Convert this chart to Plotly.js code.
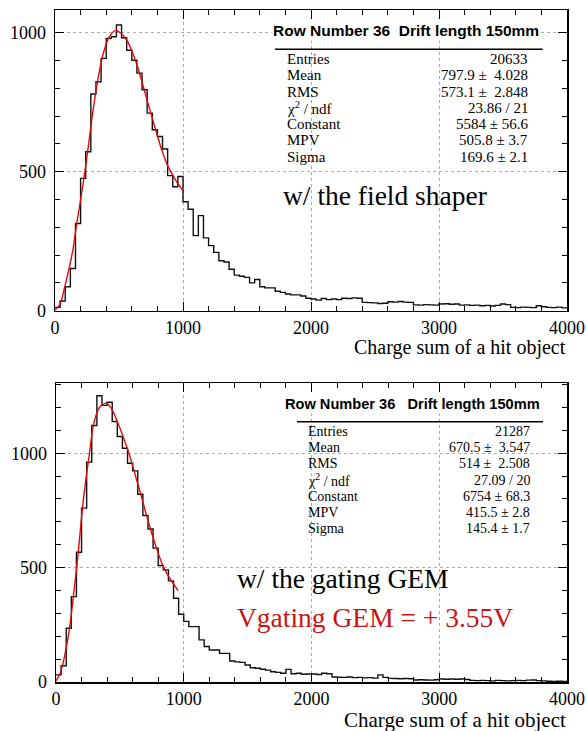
<!DOCTYPE html>
<html>
<head>
<meta charset="utf-8">
<script src="https://cdn.plot.ly/plotly-3.0.1.min.js"></script>
<style>html,body{margin:0;padding:0;background:#fff;}#chart{width:587px;height:731px;}</style>
</head>
<body>
<div id="chart"></div>
<script>
// ---------- data ----------
const binWidth = 40;
const countsTop = [12, 35, 86, 152, 314, 476, 572, 780, 824, 908,
  980, 986, 1028, 982, 937, 901, 855, 795, 711, 651,
  627, 582, 486, 446, 483, 392, 365, 270, 342, 262,
  234, 210, 180, 175, 149, 128, 124, 120, 100, 112,
  86, 82, 82, 70, 66, 60, 57, 57, 53, 45,
  42, 38, 44, 40, 42, 40, 45, 44, 46, 45,
  30, 29, 28, 26, 27, 32, 31, 33, 31, 30,
  21, 20, 22, 21, 20, 24, 25, 23, 24, 20,
  21, 19, 20, 18, 19, 17, 19, 24, 22, 12,
  11, 13, 12, 11, 18, 14, 12, 11, 13, 10];
const countsBottom = [31, 71, 235, 373, 567, 760, 961, 1121, 1251, 1209,
  1223, 1139, 1073, 1022, 956, 923, 821, 728, 669, 585,
  509, 490, 442, 366, 296, 265, 242, 242, 184, 155,
  140, 140, 125, 125, 92, 88, 86, 74, 62, 60,
  56, 52, 45, 42, 38, 55, 36, 38, 34, 35,
  35, 33, 38, 36, 22, 21, 20, 22, 19, 20,
  18, 19, 17, 31, 20, 16, 15, 14, 15, 14,
  9, 10, 9, 8, 10, 13, 12, 13, 12, 13,
  11, 7, 6, 7, 6, 5, 7, 6, 5, 6,
  7, 6, 8, 9, 6, 5, 3, 2, 3, 2];

const fitTopX = [0, 40, 76, 110, 140, 170, 200, 230, 260, 300, 340, 380, 420, 470, 510, 560, 600, 645, 685, 723, 762, 802, 840, 880, 940, 1000];
const fitTopY = [3, 24, 86, 152, 220, 314, 400, 490, 590, 730, 845, 930, 982, 1008, 1000, 974, 935, 878, 815, 752, 690, 626, 570, 522, 472, 432];
const fitBotX = [0, 30, 58, 80, 110, 135, 162, 185, 207, 235, 262, 293, 340, 393, 440, 490, 530, 571, 620, 665, 700, 738, 790, 843, 900, 955];
const fitBotY = [5, 35, 89, 150, 250, 370, 500, 630, 760, 890, 1000, 1124, 1200, 1219, 1190, 1124, 1065, 1000, 905, 818, 745, 672, 580, 500, 445, 400];

const statTitleTop = "Row Number 36  Drift length 150mm";
const statTitleBot = "Row Number 36   Drift length 150mm";
const statLabels = ["Entries", "Mean", "RMS", "χ<sup>2</sup> / ndf", "Constant", "MPV", "Sigma"];
const statTopValues = ["20633", "797.9 ±  4.028", "573.1 ±  2.848", "23.86 / 21", "5584 ± 56.6", "505.8 ± 3.7", "169.6 ± 2.1"];
const statBotValues = ["21287", "670.5 ±  3.547", "514 ±  2.508", "27.09 / 20", "6754 ± 68.3", "415.5 ± 2.8", "145.4 ± 1.7"];
const xTitle = "Charge sum of a hit object";
const labelTop = "w/ the field shaper";
const labelBot1 = "w/ the gating GEM";
const labelBot2 = "Vgating GEM = + 3.55V";

// ---------- helpers ----------
const W = 587, H = 731;
const fx = p => p / W;
const fy = p => 1 - p / H;
const serif = "Liberation Serif, Times New Roman, serif";
const sans = "Liberation Sans, Arial, sans-serif";
const sp = s => s.replace(/ {2,}/g, m => ' ' + '&nbsp;'.repeat(m.length - 1));

function stepXY(counts) {
  const x = counts.map((_, i) => i * binWidth);
  x.push(counts.length * binWidth);
  const y = counts.slice();
  y.push(counts[counts.length - 1]);
  return {x, y};
}
const hT = stepXY(countsTop), hB = stepXY(countsBottom);

const traces = [
  {x: hT.x, y: hT.y, xaxis: 'x', yaxis: 'y', type: 'scatter', mode: 'lines',
   line: {shape: 'hv', color: '#111', width: 1.4}, hoverinfo: 'skip'},
  {x: fitTopX, y: fitTopY, xaxis: 'x', yaxis: 'y', type: 'scatter', mode: 'lines',
   line: {shape: 'spline', smoothing: 0.8, color: 'rgb(225,10,10)', width: 1.4}, hoverinfo: 'skip'},
  {x: hB.x, y: hB.y, xaxis: 'x2', yaxis: 'y2', type: 'scatter', mode: 'lines',
   line: {shape: 'hv', color: '#111', width: 1.4}, hoverinfo: 'skip'},
  {x: fitBotX, y: fitBotY, xaxis: 'x2', yaxis: 'y2', type: 'scatter', mode: 'lines',
   line: {shape: 'spline', smoothing: 0.8, color: 'rgb(225,10,10)', width: 1.4}, hoverinfo: 'skip'}
];

function xax(domain, anchor) {
  return {domain, anchor, range: [0, 4000], tick0: 0, dtick: 1000,
    ticks: 'inside', ticklen: 9, tickwidth: 1, tickcolor: '#000',
    minor: {dtick: 200, ticks: 'inside', ticklen: 5, tickcolor: '#000', tickwidth: 1, showgrid: false},
    showline: true, linecolor: '#000', linewidth: 1.5, mirror: 'ticks',
    showgrid: true, gridcolor: '#aaa', griddash: 'dot', gridwidth: 1, zeroline: false,
    tickfont: {family: serif, size: 18, color: '#000'}, fixedrange: true};
}
function yax(domain, anchor, top) {
  return {domain, anchor, range: [0, top], tick0: 0, dtick: 500,
    ticks: 'inside', ticklen: 9, tickwidth: 1, tickcolor: '#000',
    minor: {dtick: 100, ticks: 'inside', ticklen: 5, tickcolor: '#000', tickwidth: 1, showgrid: false},
    showline: true, linecolor: '#000', linewidth: 1.5, mirror: 'ticks',
    showgrid: true, gridcolor: '#aaa', griddash: 'dot', gridwidth: 1, zeroline: false,
    ticklabelstandoff: 4,
    tickfont: {family: serif, size: 18, color: '#000'}, fixedrange: true};
}

const annotations = [];
const shapes = [];
function statBox(title, titleCx, titleCy, lineX0, lineX1, lineY, labX, valX, rowY0, rowDy, values, fs, tfs) {
  annotations.push({xref: 'paper', yref: 'paper', x: fx(titleCx), y: fy(titleCy), xanchor: 'center', yanchor: 'middle',
    text: '<b>' + sp(title) + '</b>', showarrow: false, bgcolor: '#fff',
    font: {family: sans, size: tfs, color: '#000'}});
  shapes.push({type: 'line', xref: 'paper', yref: 'paper', x0: fx(lineX0), x1: fx(lineX1), y0: fy(lineY), y1: fy(lineY),
    line: {color: '#000', width: 1.5}});
  statLabels.forEach((lab, i) => {
    const y = rowY0 + i * rowDy;
    annotations.push({xref: 'paper', yref: 'paper', x: fx(labX), y: fy(y), xanchor: 'left', yanchor: 'middle',
      text: lab, showarrow: false, font: {family: serif, size: fs, color: '#000'}});
    annotations.push({xref: 'paper', yref: 'paper', x: fx(valX), y: fy(y), xanchor: 'right', yanchor: 'middle',
      text: sp(values[i]), showarrow: false, font: {family: serif, size: fs, color: '#000'}});
  });
}
statBox(statTitleTop, 406, 31, 275, 542.7, 49.3, 285, 530, 59, 16.3, statTopValues, 15, 15.5);
statBox(statTitleBot, 412, 404, 297, 543, 421.7, 306, 532, 431.5, 16.2, statBotValues, 14, 14.6);

annotations.push({xref: 'paper', yref: 'paper', x: fx(281), y: fy(196), xanchor: 'left', yanchor: 'middle',
  text: labelTop, showarrow: false, font: {family: serif, size: 27.5, color: '#000'}});
annotations.push({xref: 'paper', yref: 'paper', x: fx(235), y: fy(578), xanchor: 'left', yanchor: 'middle',
  text: labelBot1, showarrow: false, font: {family: serif, size: 27.5, color: '#000'}});
annotations.push({xref: 'paper', yref: 'paper', x: fx(235), y: fy(617), xanchor: 'left', yanchor: 'middle',
  text: labelBot2, showarrow: false, font: {family: serif, size: 27.5, color: 'rgb(200,20,20)'}});
annotations.push({xref: 'paper', yref: 'paper', x: fx(568), y: fy(347), xanchor: 'right', yanchor: 'middle',
  text: xTitle, showarrow: false, font: {family: serif, size: 20, color: '#000'}});
annotations.push({xref: 'paper', yref: 'paper', x: fx(568), y: fy(720), xanchor: 'right', yanchor: 'middle',
  text: xTitle, showarrow: false, font: {family: serif, size: 21, color: '#000'}});

const layout = {
  width: W, height: H, margin: {l: 0, r: 0, t: 0, b: 0},
  paper_bgcolor: '#fff', plot_bgcolor: '#fff', showlegend: false,
  xaxis: xax([55 / W, 567 / W], 'y'),
  yaxis: yax([1 - 310.7 / H, 1 - 10 / H], 'x', 1082),
  xaxis2: xax([56 / W, 567 / W], 'y2'),
  yaxis2: yax([1 - 682 / H, 1 - 383 / H], 'x2', 1307),
  annotations, shapes
};

Plotly.newPlot('chart', traces, layout, {displayModeBar: false, staticPlot: true});
</script>
</body>
</html>
